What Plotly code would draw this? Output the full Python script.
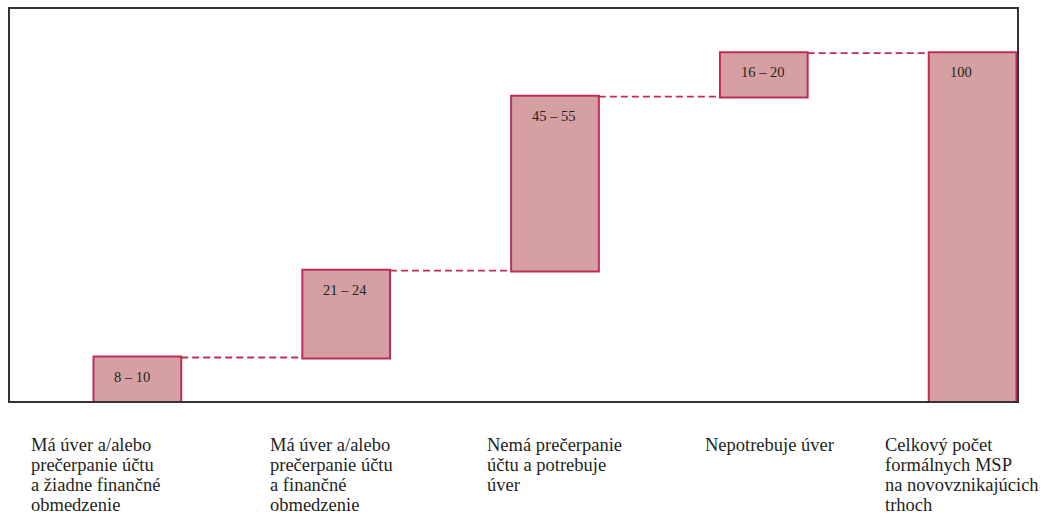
import numpy as np
import plotly.graph_objects as go

# Categories (bottom labels, line breaks as drawn)
categories = [
    "Má úver a/alebo<br>prečerpanie účtu<br>a žiadne finančné<br>obmedzenie",
    "Má úver a/alebo<br>prečerpanie účtu<br>a finančné<br>obmedzenie",
    "Nemá prečerpanie<br>účtu a potrebuje<br>úver",
    "Nepotrebuje úver",
    "Celkový počet<br>formálnych MSP<br>na novovznikajúcich<br>trhoch",
]
# Share of formal SMEs (%) per step, last one is the total
values = [12.5, 25, 50, 12.5, 100]
measures = ["relative", "relative", "relative", "relative", "total"]
value_labels = ["8 – 10", "21 – 24", "45 – 55", "16 – 20", "100"]

FILL = "rgb(214,160,163)"
EDGE = "rgb(192,44,86)"
FRAME = "#333333"
TEXT = "#231f20"
SERIF = "Liberation Serif, Times New Roman, serif"

fig = go.Figure(
    go.Waterfall(
        x=categories,
        y=values,
        measure=measures,
        width=0.42,
        increasing=dict(marker=dict(color=FILL, line=dict(color=EDGE, width=2))),
        decreasing=dict(marker=dict(color=FILL, line=dict(color=EDGE, width=2))),
        totals=dict(marker=dict(color=FILL, line=dict(color=EDGE, width=2))),
        connector=dict(mode="between", line=dict(color=EDGE, width=1.8, dash="7px,4px")),
        hoverinfo="skip",
        showlegend=False,
    )
)

# Tops of each bar (running sum; total bar ends at the total)
tops = np.cumsum(values[:4]).tolist() + [float(np.sum(values[:4]))]

annotations = []
# Range labels inside bars, near the upper-left corner
for cat, top, lab in zip(categories, tops, value_labels):
    annotations.append(dict(
        x=cat, y=top, xref="x", yref="y", text=lab, showarrow=False,
        xanchor="left", yanchor="middle", xshift=-25, yshift=-19,
        font=dict(family=SERIF, size=14.5, color=TEXT),
    ))

# Category labels below the chart, left aligned, one annotation per line
label_left_px = [29, 268, 485, 703, 883]
plot_left, plot_width = 10, 1007
for cat, px in zip(categories, label_left_px):
    for j, line in enumerate(cat.split("<br>")):
        annotations.append(dict(
            x=(px - plot_left) / plot_width, y=0, xref="paper", yref="paper",
            text=line, showarrow=False, xanchor="left", yanchor="middle",
            yshift=-44 - 20 * j,
            font=dict(family=SERIF, size=18.5, color=TEXT),
        ))

fig.update_layout(
    width=1054, height=520,
    margin=dict(l=10, r=37, t=7, b=119),
    paper_bgcolor="white", plot_bgcolor="white",
    annotations=annotations,
    xaxis=dict(
        range=[-0.61, 4.2126], showticklabels=False, ticks="",
        showgrid=False, zeroline=False,
        showline=True, linecolor=FRAME, linewidth=1.6, mirror=True,
        layer="below traces",
    ),
    yaxis=dict(
        range=[0, 112.7], showticklabels=False, ticks="",
        showgrid=False, zeroline=False,
        showline=True, linecolor=FRAME, linewidth=1.6, mirror=True,
        layer="below traces",
    ),
)

fig.write_html("out.html")
